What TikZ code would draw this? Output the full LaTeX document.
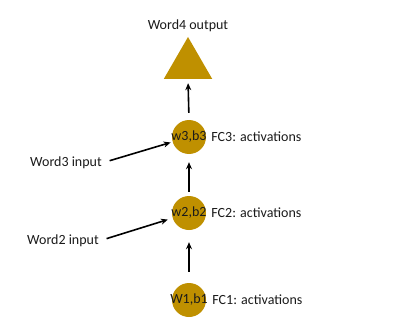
\documentclass[tikz,border=0pt]{standalone}
\usepackage{fontspec}
\setmainfont{Carlito}
\usetikzlibrary{arrows.meta, positioning, shapes.geometric}
\usepackage{xcolor}
\definecolor{Gold}{HTML}{BF9000}
\definecolor{Ink}{HTML}{1A1A1A}

\begin{document}
\begin{tikzpicture}[
    x=1pt, y=-1pt,
    layer/.style={
        circle, fill=Gold, minimum size=34pt, inner sep=0pt
    },
    desc/.style={
        anchor=west, inner sep=0pt, text=Ink
    },
    arr/.style={-{Stealth[length=7pt, width=6pt]}, line width=1.6pt},
    every node/.style={font=\fontsize{14}{17}\selectfont}
]
\useasboundingbox (0,0) rectangle (411,323);

% === Layers ===
\node[layer, label={[inner sep=0pt, text=Ink]center:{W1,b1}}] (fc1) at (189, 300) {};
\node[layer, label={[inner sep=0pt, text=Ink]center:{w2,b2}}] (fc2) at (189, 213) {};
\node[layer, label={[inner sep=0pt, text=Ink]center:{w3,b3}}] (fc3) at (189, 137) {};

% === Output ===
\node[regular polygon, regular polygon sides=3, fill=Gold,
      minimum size=56pt, inner sep=0pt] (out) at (188, 65) {};
\node[inner sep=0pt, text=Ink, above=5pt of out] (outlbl) {Word4 output};

% === Descriptions (right of each layer) ===
\node[desc, right=6pt of fc1] (d1) {FC1: activations};
\node[desc, right=5pt of fc2] (d2) {FC2: activations};
\node[desc, right=5pt of fc3] (d3) {FC3: activations};

% === Word inputs ===
\node[inner sep=0pt, text=Ink] (in3) at (66, 163) {Word3 input};
\node[inner sep=0pt, text=Ink] (in2) at (63, 241) {Word2 input};

% === Arrows ===
\draw[arr, shorten <=11pt, shorten >=12pt] (fc1.north) -- (fc2.south);
\draw[arr, shorten <=4pt, shorten >=8pt] (fc2.north) -- (fc3.south);
\draw[arr, shorten <=7pt, shorten >=4pt] (fc3.north) -- (out.south);
\draw[arr, shorten <=8pt, shorten >=2pt] (in3.east) -- (fc3);
\draw[arr, shorten <=8pt, shorten >=5pt] (in2.east) -- (fc2);

\end{tikzpicture}
\end{document}
